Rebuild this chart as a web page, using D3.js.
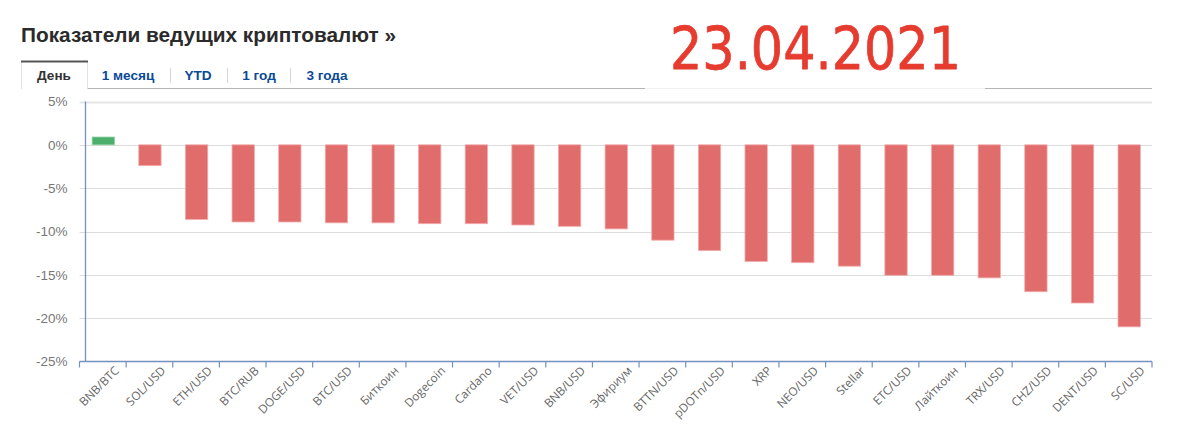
<!DOCTYPE html>
<html>
<head>
<meta charset="utf-8">
<script src="https://cdn.jsdelivr.net/npm/d3@7"></script>
<style>
    html, body { margin: 0; padding: 0; background: #fff; }
    svg { display: block; }
</style>
</head>
<body>
<div class="container"></div>
<script>
var categories = ["BNB/BTC", "SOL/USD", "ETH/USD", "BTC/RUB", "DOGE/USD", "BTC/USD", "Биткоин", "Dogecoin",
    "Cardano", "VET/USD", "BNB/USD", "Эфириум", "BTTN/USD", "pDOTn/USD", "XRP", "NEO/USD", "Stellar",
    "ETC/USD", "Лайткоин", "TRX/USD", "CHZ/USD", "DENT/USD", "SC/USD"];
var changes = [0.9, -2.4, -8.6, -8.9, -8.9, -9.0, -9.0, -9.1, -9.1, -9.25, -9.4, -9.7, -11.0, -12.2, -13.45,
    -13.6, -14.0, -15.05, -15.05, -15.35, -16.95, -18.25, -21.0];
var yTicks = [5, 0, -5, -10, -15, -20, -25];
var tabLabels = ["День", "1 месяц", "YTD", "1 год", "3 года"];
var tabCenters = [54, 128, 198, 259, 327];
var tabSeparators = [170.5, 227.5, 290.5];
var titleText = "Показатели ведущих криптовалют »";
var dateText = "23.04.2021";

var MARGIN = { left: 79.5, right: 48, top: 101.5, bottom: 83.5 };
var WIDTH = 1200, HEIGHT = 445;

var svg = d3.select(".container").append("svg")
    .attr("width", WIDTH)
    .attr("height", HEIGHT)
    .attr("viewBox", `0 0 ${WIDTH} ${HEIGHT}`);

var x = d3.scaleBand()
    .domain(categories)
    .range([MARGIN.left, WIDTH - MARGIN.right])
    .paddingInner(0.5)
    .paddingOuter(0.25);

var y = d3.scaleLinear()
    .domain([5, -25])
    .range([MARGIN.top, HEIGHT - MARGIN.bottom]);

// header
svg.append("text")
    .attr("x", 21).attr("y", 42)
    .style("font", "bold 20.8px 'Liberation Sans'")
    .attr("fill", "#2b2b2b")
    .text(titleText);

// tabs
svg.append("line")
    .attr("x1", 21).attr("x2", 1152).attr("y1", 88.5).attr("y2", 88.5)
    .attr("stroke", "#b5b5b5");
svg.append("path")
    .attr("d", "M21.5,89V61.5H87.5V89")
    .attr("fill", "#fff")
    .attr("stroke", "#e2e2e2");
svg.append("line")
    .attr("x1", 21).attr("x2", 88).attr("y1", 61.5).attr("y2", 61.5)
    .attr("stroke", "#555").attr("stroke-width", 2);
svg.selectAll(".tab")
    .data(tabLabels)
    .enter().append("text")
    .attr("class", "tab")
    .attr("x", (d, i) => tabCenters[i])
    .attr("y", 80)
    .attr("text-anchor", "middle")
    .style("font", "bold 13.6px 'Liberation Sans'")
    .attr("fill", (d, i) => i == 0 ? "#333" : "#0b4a96")
    .text(d => d);
svg.selectAll(".tab-sep")
    .data(tabSeparators)
    .enter().append("line")
    .attr("x1", d => d).attr("x2", d => d)
    .attr("y1", 68).attr("y2", 83)
    .attr("stroke", "#d5d5d5");

// grid and y labels
var yAxis = d3.axisLeft(y)
    .tickValues(yTicks)
    .tickSize(0)
    .tickPadding(12)
    .tickFormat(d => d + "%");
var yG = svg.append("g")
    .attr("transform", `translate(${MARGIN.left},0)`)
    .call(yAxis);
yG.select(".domain").remove();
yG.selectAll("text")
    .style("font", "13.5px 'Liberation Sans'")
    .attr("fill", "#777");
svg.selectAll(".grid")
    .data(yTicks.slice(0, -1))
    .enter().append("line")
    .attr("class", "grid")
    .attr("x1", MARGIN.left).attr("x2", WIDTH - MARGIN.right)
    .attr("y1", d => Math.round(y(d)) + 0.5).attr("y2", d => Math.round(y(d)) + 0.5)
    .attr("stroke", d => d == 5 ? "#e6e6e6" : "#dcdcdc")
    .attr("stroke-width", d => d == 5 ? 2 : 1);

// bars, stroke sits inside the band so the outer width stays the same
svg.selectAll(".bar")
    .data(changes)
    .enter().append("rect")
    .attr("class", "bar")
    .attr("x", (d, i) => x(categories[i]) + 1)
    .attr("y", d => y(Math.max(d, 0)))
    .attr("width", x.bandwidth() - 1)
    .attr("height", d => Math.abs(y(d) - y(0)))
    .attr("fill", d => d > 0 ? "#4caf6b" : "#e06c6c")
    .attr("stroke", d => d > 0 ? "#8fd0a3" : "#f2aaaa")
    .attr("stroke-width", 0.8);

// x axis
var xAxis = d3.axisBottom(x).tickSize(0).tickPadding(8);
var xG = svg.append("g")
    .attr("transform", `translate(4.5,${y(-25) + 6})`)
    .call(xAxis);
xG.select(".domain").remove();
xG.selectAll("text")
    .style("font", "11.8px 'Open Sans'")
    .attr("fill", "#666")
    .attr("text-anchor", "end")
    .attr("dx", "0.5em")
    .attr("dy", "0.3em")
    .attr("transform", "rotate(-45)");

var axisColor = "#7391c0";
svg.append("line")
    .attr("x1", 85.5).attr("x2", 85.5)
    .attr("y1", y(5)).attr("y2", y(-25))
    .attr("stroke", axisColor)
    .attr("stroke-width", 1.3);
svg.append("line")
    .attr("x1", MARGIN.left).attr("x2", WIDTH - MARGIN.right)
    .attr("y1", y(-25)).attr("y2", y(-25))
    .attr("stroke", axisColor)
    .attr("stroke-width", 1.3);
svg.selectAll(".x-tick")
    .data(d3.range(categories.length + 1))
    .enter().append("line")
    .attr("class", "x-tick")
    .attr("x1", d => MARGIN.left + d * x.step())
    .attr("x2", d => MARGIN.left + d * x.step())
    .attr("y1", y(-25)).attr("y2", y(-25) + 6)
    .attr("stroke", axisColor)
    .attr("stroke-width", 1.2);

// pasted date stamp over the tab line
svg.append("rect")
    .attr("x", 645).attr("y", 20).attr("width", 340).attr("height", 69)
    .attr("fill", "#fff");
svg.append("line")
    .attr("x1", 645).attr("x2", 985).attr("y1", 88.5).attr("y2", 88.5)
    .attr("stroke", "#f0f0f0");
svg.append("text")
    .attr("x", 670).attr("y", 69)
    .style("font", "58px 'DejaVu Sans'")
    .attr("textLength", 291)
    .attr("lengthAdjust", "spacingAndGlyphs")
    .attr("fill", "#e63c30")
    .attr("stroke", "#e63c30")
    .attr("stroke-width", 0.8)
    .attr("stroke-linejoin", "round")
    .text(dateText);
</script>
</body>
</html>
